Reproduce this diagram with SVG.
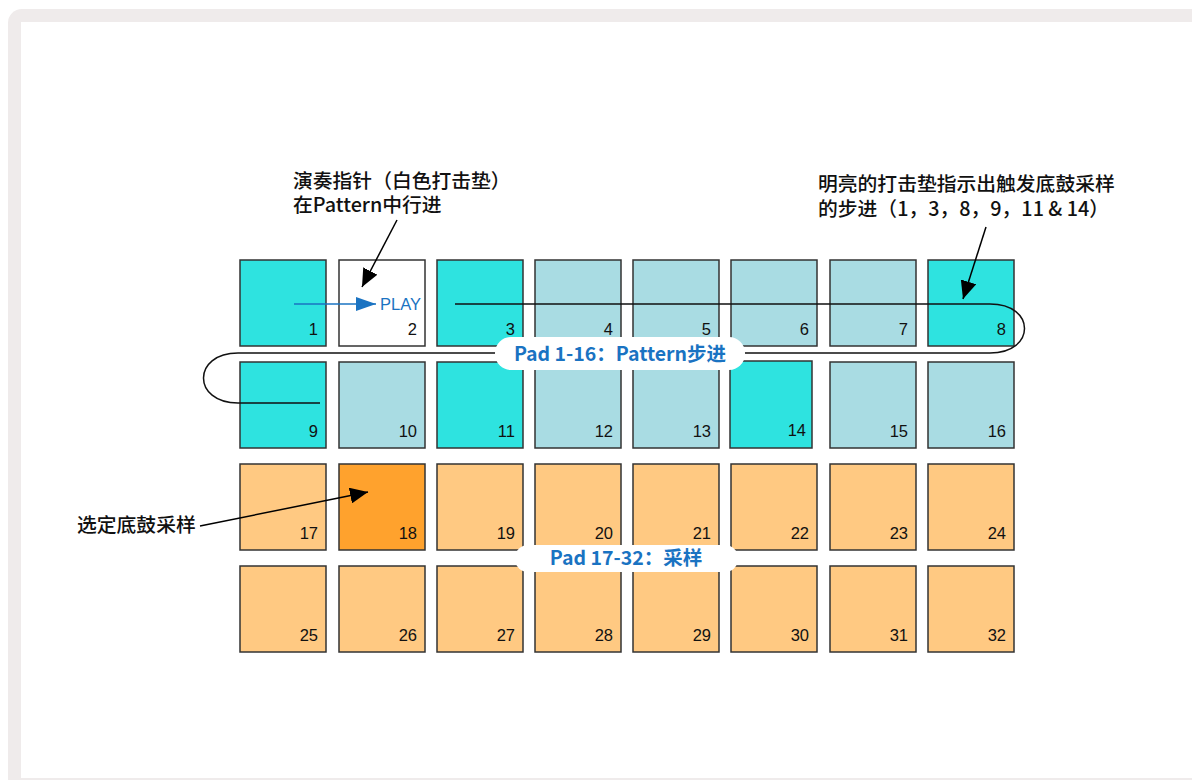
<svg xmlns="http://www.w3.org/2000/svg" width="1192" height="780" viewBox="0 0 1192 780">
<style>
.pad{stroke:#333;stroke-width:1.5}
.c{fill:#2ee3e0}.l{fill:#a9dce3}.w{fill:#fff}.o{fill:#ffc982}.d{fill:#ffa22d}
.n{font-family:"Liberation Sans",Arial,sans-serif;font-size:16.5px;fill:#111;text-anchor:end}
.ann{font-family:"Noto Sans CJK SC",sans-serif;font-size:19.8px;font-weight:500;fill:#111}
.lab{font-family:"Noto Sans CJK SC",sans-serif;font-size:19.5px;font-weight:700;fill:#1a73c2;text-anchor:middle}
.cn{fill:none;stroke:#111;stroke-width:1.5}
</style>
<defs>
<marker id="ahb" markerWidth="20" markerHeight="14" refX="20" refY="7" orient="auto" markerUnits="userSpaceOnUse" viewBox="0 0 20 14"><path d="M0,0 L20,7 L0,14 z" fill="#1a73c2"/></marker>
<marker id="ahk" markerWidth="18" markerHeight="16" refX="18" refY="8" orient="auto" markerUnits="userSpaceOnUse" viewBox="0 0 18 16"><path d="M0,0 L18,8 L0,16 z" fill="#000"/></marker>
</defs>
<rect x="8" y="9" width="1200" height="790" rx="14" fill="#efebeb"/>
<rect x="21" y="22" width="1180" height="756" fill="#fff"/>

<g id="pads">
<g id="pad1"><rect class="pad c" x="240" y="260" width="86" height="86"/><text class="n" x="318" y="335">1</text></g>
<g id="pad2"><rect class="pad w" x="339" y="260" width="86" height="86"/><text class="n" x="417" y="335">2</text></g>
<g id="pad3"><rect class="pad c" x="437" y="260" width="86" height="86"/><text class="n" x="515" y="335">3</text></g>
<g id="pad4"><rect class="pad l" x="535" y="260" width="86" height="86"/><text class="n" x="613" y="335">4</text></g>
<g id="pad5"><rect class="pad l" x="633" y="260" width="86" height="86"/><text class="n" x="711" y="335">5</text></g>
<g id="pad6"><rect class="pad l" x="731" y="260" width="86" height="86"/><text class="n" x="809" y="335">6</text></g>
<g id="pad7"><rect class="pad l" x="830" y="260" width="86" height="86"/><text class="n" x="908" y="335">7</text></g>
<g id="pad8"><rect class="pad c" x="928" y="260" width="86" height="86"/><text class="n" x="1006" y="335">8</text></g>

<g id="pad9"><rect class="pad c" x="240" y="362" width="86" height="86"/><text class="n" x="318" y="437">9</text></g>
<g id="pad10"><rect class="pad l" x="339" y="362" width="86" height="86"/><text class="n" x="417" y="437">10</text></g>
<g id="pad11"><rect class="pad c" x="437" y="362" width="86" height="86"/><text class="n" x="515" y="437">11</text></g>
<g id="pad12"><rect class="pad l" x="535" y="362" width="86" height="86"/><text class="n" x="613" y="437">12</text></g>
<g id="pad13"><rect class="pad l" x="633" y="362" width="86" height="86"/><text class="n" x="711" y="437">13</text></g>
<g id="pad14"><rect class="pad c" x="730" y="361" width="82" height="87"/><text class="n" x="806" y="436">14</text></g>
<g id="pad15"><rect class="pad l" x="830" y="362" width="86" height="86"/><text class="n" x="908" y="437">15</text></g>
<g id="pad16"><rect class="pad l" x="928" y="362" width="86" height="86"/><text class="n" x="1006" y="437">16</text></g>

<g id="pad17"><rect class="pad o" x="240" y="464" width="86" height="86"/><text class="n" x="318" y="539">17</text></g>
<g id="pad18"><rect class="pad d" x="339" y="464" width="86" height="86"/><text class="n" x="417" y="539">18</text></g>
<g id="pad19"><rect class="pad o" x="437" y="464" width="86" height="86"/><text class="n" x="515" y="539">19</text></g>
<g id="pad20"><rect class="pad o" x="535" y="464" width="86" height="86"/><text class="n" x="613" y="539">20</text></g>
<g id="pad21"><rect class="pad o" x="633" y="464" width="86" height="86"/><text class="n" x="711" y="539">21</text></g>
<g id="pad22"><rect class="pad o" x="731" y="464" width="86" height="86"/><text class="n" x="809" y="539">22</text></g>
<g id="pad23"><rect class="pad o" x="830" y="464" width="86" height="86"/><text class="n" x="908" y="539">23</text></g>
<g id="pad24"><rect class="pad o" x="928" y="464" width="86" height="86"/><text class="n" x="1006" y="539">24</text></g>

<g id="pad25"><rect class="pad o" x="240" y="566" width="86" height="86"/><text class="n" x="318" y="641">25</text></g>
<g id="pad26"><rect class="pad o" x="339" y="566" width="86" height="86"/><text class="n" x="417" y="641">26</text></g>
<g id="pad27"><rect class="pad o" x="437" y="566" width="86" height="86"/><text class="n" x="515" y="641">27</text></g>
<g id="pad28"><rect class="pad o" x="535" y="566" width="86" height="86"/><text class="n" x="613" y="641">28</text></g>
<g id="pad29"><rect class="pad o" x="633" y="566" width="86" height="86"/><text class="n" x="711" y="641">29</text></g>
<g id="pad30"><rect class="pad o" x="731" y="566" width="86" height="86"/><text class="n" x="809" y="641">30</text></g>
<g id="pad31"><rect class="pad o" x="830" y="566" width="86" height="86"/><text class="n" x="908" y="641">31</text></g>
<g id="pad32"><rect class="pad o" x="928" y="566" width="86" height="86"/><text class="n" x="1006" y="641">32</text></g>
</g>

<g id="connectors">
<path class="cn" d="M455,304 L990,304 C1036,304 1036,353 990,353 L238,353 C192,353 192,403 238,403 L320,403"/>
<line x1="294" y1="304" x2="376" y2="304" stroke="#1a73c2" stroke-width="1.5" marker-end="url(#ahb)"/>
<line x1="397" y1="220" x2="362" y2="287" stroke="#000" stroke-width="1.5" marker-end="url(#ahk)"/>
<line x1="986" y1="227" x2="963" y2="299" stroke="#000" stroke-width="1.5" marker-end="url(#ahk)"/>
<line x1="200" y1="526" x2="368" y2="492" stroke="#000" stroke-width="1.5" marker-end="url(#ahk)"/>
</g>

<g id="play"><text x="380" y="310" font-family="Liberation Sans,Arial,sans-serif" font-size="16.5" fill="#1a73c2">PLAY</text></g>

<g id="label1"><rect x="495" y="337" width="250" height="33" rx="16" fill="#fff"/><text class="lab" x="620" y="361">Pad 1-16：Pattern步进</text></g>
<g id="label2"><rect x="515" y="545" width="223" height="27" rx="13" fill="#fff"/><text class="lab" x="626" y="565">Pad 17-32：采样</text></g>

<g id="ann1"><text class="ann" x="293" y="188">演奏指针（白色打击垫）</text><text class="ann" x="293" y="212">在Pattern中行进</text></g>
<g id="ann2"><text class="ann" x="818" y="191">明亮的打击垫指示出触发底鼓采样</text><text class="ann" x="818" y="216">的步进（1，3，8，9，11 &amp; 14）</text></g>
<g id="ann3"><text class="ann" x="77" y="532">选定底鼓采样</text></g>
</svg>
